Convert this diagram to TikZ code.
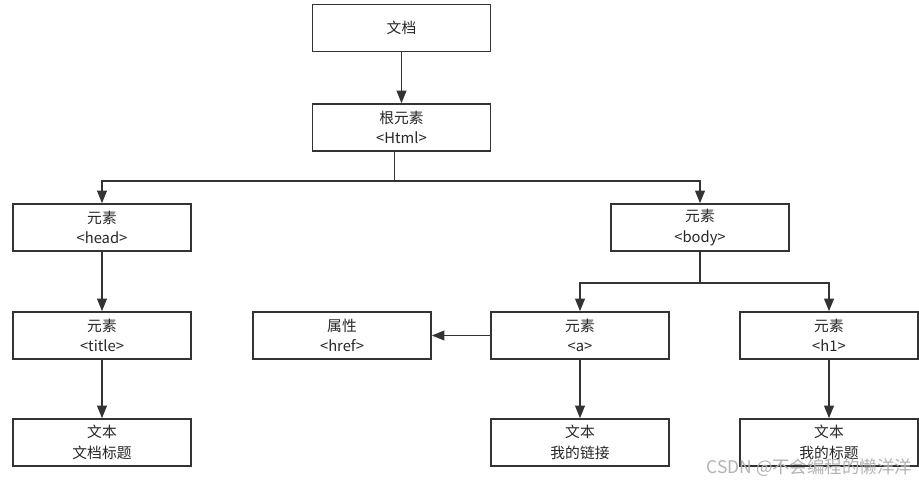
\documentclass[tikz,border=0pt]{standalone}
\usepackage{fontspec}
\setmainfont{Noto Sans CJK SC}
\usetikzlibrary{arrows.meta}

\begin{document}
\begin{tikzpicture}[
    x=0.025cm, y=-0.025cm,
    box/.style={rectangle, draw=black!80, line width=1.1pt, minimum width=4.45cm, minimum height=1.175cm, inner sep=0pt, align=center, text=black!85, font=\fontsize{10.5}{14.5}\selectfont},
    link/.style={draw=black!80, line width=1.1pt},
    arr/.style={link, -{Triangle[length=9pt,width=7pt]}}
]
\useasboundingbox (0,0) rectangle (919,484);

% Top
\node[box] (doc) at (401.5,28) {文档};
\node[box] (root) at (401.5,127.5) {根元素\\<Html>};

% Second level
\node[box] (head) at (102,227.5) {元素\\<head>};
\node[box] (body) at (700,227.5) {元素\\<body>};

% Third level
\node[box] (title) at (102,335.5) {元素\\<title>};
\node[box] (href) at (342,335.5) {属性\\<href>};
\node[box] (a) at (580,335.5) {元素\\<a>};
\node[box] (h1) at (829,335.5) {元素\\<h1>};

% Text leaves
\node[box] (ttext) at (102,442.5) {文本\\文档标题};
\node[box] (atext) at (580,442.5) {文本\\我的链接};
\node[box] (htext) at (829,442.5) {文本\\我的标题};

% Connectors
\draw[arr] (doc) -- (root);
\draw[link] ([xshift=-5]root.south) -- ++(0,29) coordinate (rootfork);
\draw[arr] (rootfork) -| (head.north);
\draw[arr] (rootfork) -| (body.north);

\draw[arr] (head) -- (title);
\draw[arr] (title) -- (ttext);

\draw[link] (body.south) -- ++(0,31) coordinate (bodyfork);
\draw[arr] (bodyfork) -| (a.north);
\draw[arr] (bodyfork) -| (h1.north);

\draw[arr] (a) -- (href);
\draw[arr] (a) -- (atext);
\draw[arr] (h1) -- (htext);

% Watermark
\node[anchor=east, text=black!30, font=\fontsize{12.4}{14}\selectfont] (mark) at (917,468) {CSDN @不会编程的懒洋洋};

\end{tikzpicture}
\end{document}
